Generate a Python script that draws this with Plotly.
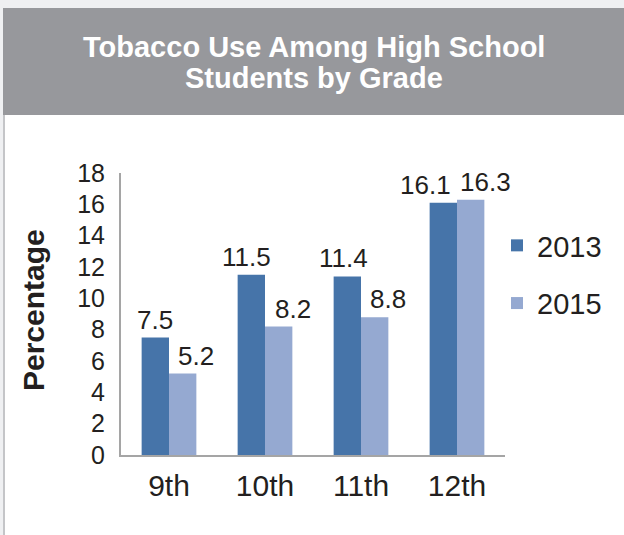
import plotly.graph_objects as go

grades = ["9th", "10th", "11th", "12th"]
years = ["2013", "2015"]
values_2013 = [7.5, 11.5, 11.4, 16.1]
values_2015 = [5.2, 8.2, 8.8, 16.3]
y_ticks = [0, 2, 4, 6, 8, 10, 12, 14, 16, 18]
title_lines = ["Tobacco Use Among High School", "Students by Grade"]

W, H = 624, 535
L, R, T, B = 121, 505, 173, 455  # plot area in pixels

def px(x):
    return (x - L) / (R - L)

def py(y):
    return (B - y) / (B - T)

FONT = "Liberation Sans, Arial, sans-serif"
TXT = "#231f20"
colors = ["#4674a9", "#95a9d1"]

fig = go.Figure()
for i, (yr, vals) in enumerate(zip(years, [values_2013, values_2015])):
    fig.add_trace(go.Bar(x=grades, y=vals, name=yr, marker_color=colors[i],
                         marker_line_width=0, legendgroup=yr))

# data labels (shifted like the original)
label_shift = [[0, -5, -4, -18], [13, 14, 13, 15]]
bar_off = [-13.7, 13.7]
for s, vals in enumerate([values_2013, values_2015]):
    for g, v in zip(grades, vals):
        fig.add_annotation(x=g, y=v, text=f"{v:.1f}", showarrow=False,
                           xref="x", yref="y", yanchor="bottom", xanchor="center",
                           xshift=bar_off[s] + label_shift[s][grades.index(g)],
                           yshift=1,
                           font=dict(family=FONT, size=26, color=TXT))

shapes = [
    dict(type="rect", xref="paper", yref="paper", x0=px(0), x1=px(W), y0=py(8), y1=py(-2),
         fillcolor="#eff0f2", line_width=0, layer="below"),
    dict(type="rect", xref="paper", yref="paper", x0=px(-2), x1=px(3), y0=py(H + 2), y1=py(-2),
         fillcolor="#eff0f2", line_width=0, layer="below"),
    dict(type="rect", xref="paper", yref="paper", x0=px(3), x1=px(5), y0=py(H + 2), y1=py(8),
         fillcolor="#c4c5c8", line_width=0, layer="below"),
    dict(type="rect", xref="paper", yref="paper", x0=px(3), x1=px(W + 2), y0=py(115), y1=py(8),
         fillcolor="#97989c", line_width=0, layer="below"),
]

for line, yc in zip(title_lines, [47, 78]):
    fig.add_annotation(x=px(314), y=py(yc), xref="paper", yref="paper",
                       xanchor="center", yanchor="middle",
                       text=f"<b>{line}</b>",
                       showarrow=False, font=dict(family=FONT, size=29, color="white"))
fig.add_annotation(x=px(33), y=py(310), xref="paper", yref="paper",
                   xanchor="center", yanchor="middle",
                   text="<b>Percentage</b>", textangle=-90, showarrow=False,
                   font=dict(family=FONT, size=30, color=TXT))

fig.update_layout(
    width=W, height=H,
    margin=dict(l=L, r=W - R, t=T, b=H - B, pad=0, autoexpand=False),
    paper_bgcolor="white", plot_bgcolor="white",
    barmode="group", bargap=0.43, bargroupgap=0,
    shapes=shapes,
    showlegend=True,
    legend=dict(x=px(497), y=py(220), xanchor="left", yanchor="top",
                font=dict(family=FONT, size=29, color=TXT),
                tracegroupgap=17, traceorder="grouped", bgcolor="rgba(0,0,0,0)"),
    xaxis=dict(range=[-0.5, len(grades) - 0.5], showline=True, linecolor="#a5a5a5",
               linewidth=2, ticks="",
               tickfont=dict(family=FONT, size=30, color=TXT), ticklabelstandoff=3,
               showgrid=False, zeroline=False, automargin=False),
    yaxis=dict(range=[0, 18], tickvals=y_ticks, showline=True, linecolor="#a5a5a5",
               linewidth=2, ticks="", tickfont=dict(family=FONT, size=25, color=TXT),
               ticklabelstandoff=9, showgrid=False, zeroline=False, automargin=False),
)

fig.write_html("out.html")
